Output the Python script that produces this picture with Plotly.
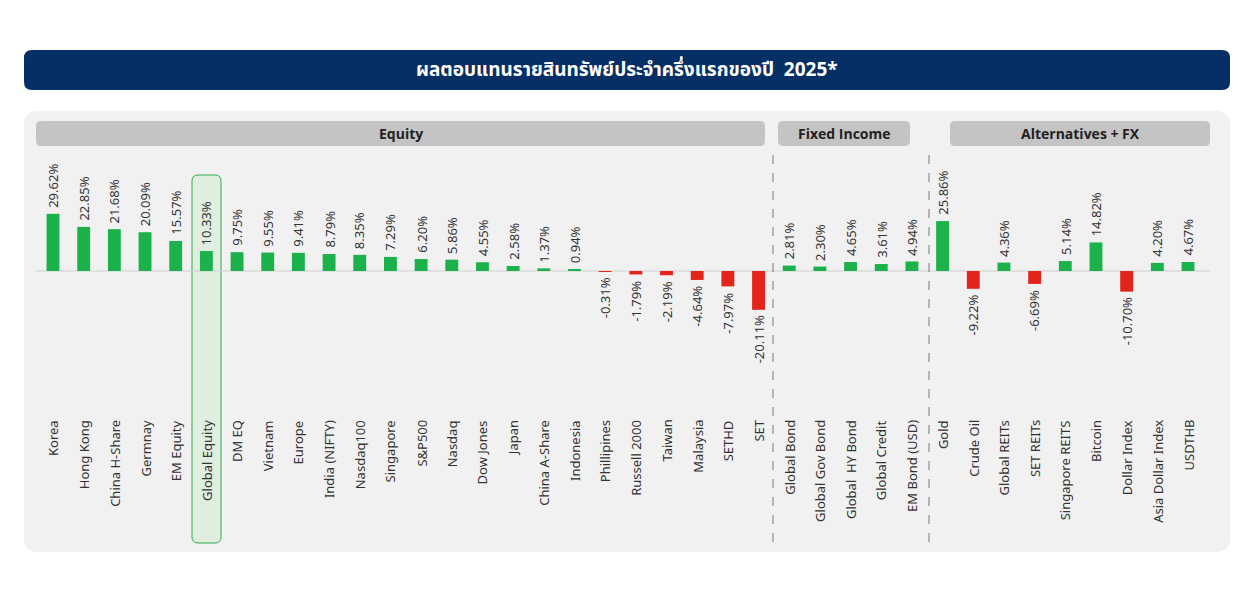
import plotly.graph_objects as go

categories = ["Korea","Hong Kong","China H-Share","Germnay","EM Equity","Global Equity","DM EQ","Vietnam","Europe","India (NIFTY)","Nasdaq100","Singapore","S&P500","Nasdaq","Dow Jones","Japan","China A-Share","Indonesia","Phillipines","Russell 2000","Taiwan","Malaysia","SETHD","SET",
              "Global Bond","Global Gov Bond","Global  HY Bond","Global Credit","EM Bond (USD)",
              "Gold","Crude Oil","Global REITs","SET REITs","Singapore REITS","Bitcoin","Dollar Index","Asia Dollar Index","USDTHB"]
values = [29.62,22.85,21.68,20.09,15.57,10.33,9.75,9.55,9.41,8.79,8.35,7.29,6.20,5.86,4.55,2.58,1.37,0.94,-0.31,-1.79,-2.19,-4.64,-7.97,-20.11,
          2.81,2.30,4.65,3.61,4.94,
          25.86,-9.22,4.36,-6.69,5.14,14.82,-10.70,4.20,4.67]
sections = ["Equity","Fixed Income","Alternatives + FX"]
title = "ผลตอบแทนรายสินทรัพย์ประจำครึ่งแรกของปี  2025*"

W, H = 1254, 600
OFF = 8  # page body margin
x0px, dx = 53 - OFF, (1188-53)/37
zero_px, ppu = 271 - OFF, 1.93
xr = [-x0px/dx, (W-x0px)/dx]
yr = [-(H-zero_px)/ppu, zero_px/ppu]

def px(x): return (x-OFF)/W
def py(y): return 1-(y-OFF)/H

def rrect(x1, y1, x2, y2, r):
    X1, X2 = px(x1), px(x2); Y1, Y2 = py(y1), py(y2)
    rx, ry = r/W, r/H
    return (f"M{X1+rx},{Y1} L{X2-rx},{Y1} Q{X2},{Y1} {X2},{Y1-ry} L{X2},{Y2+ry} Q{X2},{Y2} {X2-rx},{Y2} "
            f"L{X1+rx},{Y2} Q{X1},{Y2} {X1},{Y2+ry} L{X1},{Y1-ry} Q{X1},{Y1} {X1+rx},{Y1} Z")

green, red = "#1BB24B", "#E3241B"
colors = [green if v >= 0 else red for v in values]
xs = list(range(len(categories)))

fig = go.Figure(go.Bar(x=xs, y=values, marker_color=colors, width=0.42, marker_line_width=0))

shapes = [
    dict(type="path", path=rrect(24, 50, 1230, 90, 8), xref="paper", yref="paper", fillcolor="#062F66", line_width=0, layer="below"),
    dict(type="path", path=rrect(24, 111, 1230, 552, 14), xref="paper", yref="paper", fillcolor="#F1F1F1", line_width=0, layer="below"),
    dict(type="path", path=rrect(192, 175, 221, 543, 6), xref="paper", yref="paper", fillcolor="rgba(214,236,214,0.6)", line=dict(color="#2EAA4F", width=1), layer="below"),
    dict(type="line", xref="paper", yref="y", x0=px(36), x1=px(1210), y0=0, y1=0, line=dict(color="#D0D0D0", width=1), layer="below"),
    dict(type="line", xref="paper", yref="paper", x0=px(773), x1=px(773), y0=py(155), y1=py(548), line=dict(color="#777", width=1, dash="dash")),
    dict(type="line", xref="paper", yref="paper", x0=px(929), x1=px(929), y0=py(155), y1=py(548), line=dict(color="#777", width=1, dash="dash")),
]
hdrs = [(36, 765), (778, 910), (950, 1210)]
anns = [dict(x=px(627), y=py(71), xref="paper", yref="paper", xanchor="center", yanchor="middle",
             text=f"<b>{title}</b>", showarrow=False,
             font=dict(size=19, color="white", family="Noto Sans Thai, Noto Sans, DejaVu Sans"))]
for (a, b), name in zip(hdrs, sections):
    shapes.append(dict(type="path", path=rrect(a, 121, b, 146, 5), xref="paper", yref="paper", fillcolor="#C4C4C4", line_width=0, layer="below"))
    anns.append(dict(x=px((a+b)/2), y=py(133.5), xref="paper", yref="paper", xanchor="center", yanchor="middle",
                     text=f"<b>{name}</b>", showarrow=False, font=dict(size=14, color="#222")))
font = dict(size=13, color="#333", family="Noto Sans, DejaVu Sans")
for i, (c, v) in enumerate(zip(categories, values)):
    anns.append(dict(x=i, y=v, text=f"{v:.2f}%", showarrow=False, textangle=-90,
                     yanchor="bottom" if v >= 0 else "top", yshift=4 if v >= 0 else -4, font=font))
    anns.append(dict(x=i, y=(zero_px-(418-OFF))/ppu, text=c, showarrow=False, textangle=-90, yanchor="top", font=font))

fig.update_layout(width=W, height=H, margin=dict(l=0, r=0, t=0, b=0), plot_bgcolor="rgba(0,0,0,0)",
                  paper_bgcolor="white", showlegend=False, shapes=shapes, annotations=anns,
                  xaxis=dict(range=xr, visible=False, fixedrange=True),
                  yaxis=dict(range=yr, visible=False, fixedrange=True))
fig.write_html("out.html")
